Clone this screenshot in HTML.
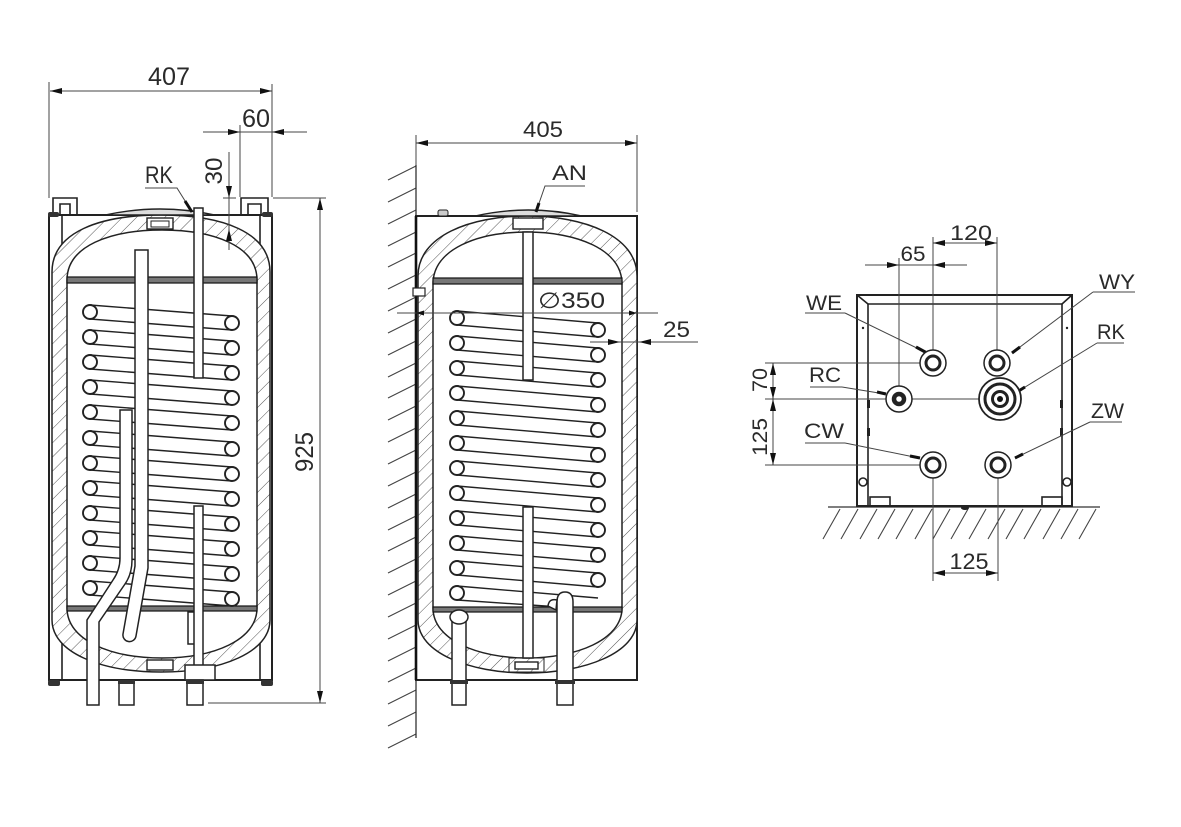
<!DOCTYPE html>
<html><head><meta charset="utf-8"><style>
html,body{margin:0;padding:0;background:#fff;}
svg{display:block;}
text{font-family:"Liberation Sans",sans-serif;fill:#2a2a2a;}
</style></head><body>
<svg width="1181" height="827" viewBox="0 0 1181 827" xmlns="http://www.w3.org/2000/svg">
<defs>
<pattern id="h" width="10" height="10" patternUnits="userSpaceOnUse" patternTransform="rotate(45)">
<rect width="10" height="10" fill="#fff"/>
<line x1="0" y1="0" x2="0" y2="10" stroke="#555" stroke-width="1"/>
</pattern>
<marker id="ar" viewBox="0 0 12 6" refX="12" refY="3" markerWidth="12" markerHeight="6" markerUnits="userSpaceOnUse" orient="auto-start-reverse"><path d="M0,0L12,3L0,6z" fill="#111"/></marker>
<marker id="as" viewBox="0 0 8 5" refX="8" refY="2.5" markerWidth="8" markerHeight="5" markerUnits="userSpaceOnUse" orient="auto-start-reverse"><path d="M0,0L8,2.5L0,5z" fill="#111"/></marker>
</defs>
<rect width="1181" height="827" fill="#fff"/>

<!-- ================= LEFT TANK ================= -->
<g stroke="#222" stroke-width="1.6" fill="none">
  <path d="M53,215 V198 H77 V215 M60,215 V204 H70 V215" />
  <path d="M241,215 V198 H268 V215 M248,215 V204 H261 V215" />
  <rect x="49" y="215" width="223" height="465" stroke-width="2"/>
  <line x1="62" y1="215" x2="62" y2="680"/>
  <line x1="260" y1="215" x2="260" y2="680"/>
</g>
<rect x="48" y="212" width="11" height="5" rx="2" fill="#333"/>
<rect x="262" y="212" width="11" height="5" rx="2" fill="#333"/>
<rect x="48" y="680" width="12" height="6" rx="2" fill="#333"/>
<rect x="261" y="680" width="12" height="6" rx="2" fill="#333"/>
<path fill-rule="evenodd" fill="url(#h)" stroke="#222" stroke-width="1.5"
 d="M52,272 C52,232 100,215 161,215 C222,215 270,232 270,272 L270,620 C270,652 222,672 161,672 C100,672 52,652 52,620 Z
    M67,280 C67,246 110,230 162,230 C214,230 257,246 257,280 L257,608 C257,640 214,658 162,658 C110,658 67,640 67,608 Z"/>
<path d="M105,215 Q160,203 215,215 Z" fill="#ddd" stroke="#222" stroke-width="1.4"/>
<rect x="147" y="218" width="26" height="11" fill="#fff" stroke="#222" stroke-width="1.4"/>
<rect x="151" y="221" width="18" height="6" fill="none" stroke="#222" stroke-width="1"/>
<rect x="147" y="660" width="26" height="10" fill="#fff" stroke="#222" stroke-width="1.4"/>
<rect x="67" y="277" width="190" height="6" fill="#777" stroke="#111" stroke-width="1.2"/>
<rect x="67" y="606" width="190" height="5" fill="#777" stroke="#111" stroke-width="1.2"/>
<g stroke="#222" stroke-width="1.4">
<line x1="90" y1="305" x2="232" y2="316"/><line x1="90" y1="319" x2="232" y2="330"/>
<line x1="90" y1="330" x2="232" y2="341"/><line x1="90" y1="344" x2="232" y2="355"/>
<line x1="90" y1="355" x2="232" y2="366"/><line x1="90" y1="369" x2="232" y2="380"/>
<line x1="90" y1="380" x2="232" y2="391"/><line x1="90" y1="394" x2="232" y2="405"/>
<line x1="90" y1="405" x2="232" y2="416"/><line x1="90" y1="419" x2="232" y2="430"/>
<line x1="90" y1="431" x2="232" y2="442"/><line x1="90" y1="445" x2="232" y2="456"/>
<line x1="90" y1="456" x2="232" y2="467"/><line x1="90" y1="470" x2="232" y2="481"/>
<line x1="90" y1="481" x2="232" y2="492"/><line x1="90" y1="495" x2="232" y2="506"/>
<line x1="90" y1="506" x2="232" y2="517"/><line x1="90" y1="520" x2="232" y2="531"/>
<line x1="90" y1="531" x2="232" y2="542"/><line x1="90" y1="545" x2="232" y2="556"/>
<line x1="90" y1="556" x2="232" y2="567"/><line x1="90" y1="570" x2="232" y2="581"/>
<line x1="90" y1="581" x2="232" y2="592"/><line x1="90" y1="595" x2="232" y2="606"/>
</g>
<g fill="#fff" stroke="#222" stroke-width="1.9">
<circle cx="90" cy="312" r="7"/><circle cx="90" cy="337" r="7"/><circle cx="90" cy="362" r="7"/><circle cx="90" cy="387" r="7"/>
<circle cx="90" cy="412" r="7"/><circle cx="90" cy="438" r="7"/><circle cx="90" cy="463" r="7"/><circle cx="90" cy="488" r="7"/>
<circle cx="90" cy="513" r="7"/><circle cx="90" cy="538" r="7"/><circle cx="90" cy="563" r="7"/><circle cx="90" cy="588" r="7"/>
<circle cx="232" cy="323" r="7"/><circle cx="232" cy="348" r="7"/><circle cx="232" cy="373" r="7"/><circle cx="232" cy="398" r="7"/>
<circle cx="232" cy="423" r="7"/><circle cx="232" cy="449" r="7"/><circle cx="232" cy="474" r="7"/><circle cx="232" cy="499" r="7"/>
<circle cx="232" cy="524" r="7"/><circle cx="232" cy="549" r="7"/><circle cx="232" cy="574" r="7"/><circle cx="232" cy="599" r="7"/>
</g>
<g fill="#fff" stroke="#222" stroke-width="1.5">
<path d="M135,250 H148 V568 L136,636 A6.5,6.5 0 0 1 123,634 L135,566 Z"/>
<path d="M120,410 H132 V560 Q132,574 125,584 L99,622 V705 H87 V620 L113,580 Q120,570 120,558 Z"/>
<rect x="194" y="208" width="9" height="170"/>
<rect x="188" y="612" width="7" height="32"/>
<rect x="194" y="506" width="9" height="162"/>
<rect x="185" y="665" width="30" height="15"/>
<rect x="187" y="680" width="16" height="25"/>
<rect x="119" y="682" width="15" height="23"/>
</g>
<rect x="118" y="680" width="17" height="4" fill="#333"/>
<rect x="186" y="680" width="18" height="4" fill="#333"/>

<g stroke="#444" stroke-width="1" fill="none">
<line x1="49" y1="82" x2="49" y2="198"/>
<line x1="272" y1="84" x2="272" y2="197"/>
<line x1="50" y1="91" x2="272" y2="91" marker-start="url(#ar)" marker-end="url(#ar)"/>
<line x1="240" y1="125" x2="240" y2="197"/>
<line x1="203" y1="132" x2="307" y2="132"/>
<line x1="205" y1="132" x2="240" y2="132" marker-end="url(#ar)"/>
<line x1="305" y1="132" x2="272" y2="132" marker-end="url(#ar)"/>
<line x1="229" y1="152" x2="229" y2="250"/>
<line x1="229" y1="160" x2="229" y2="198" marker-end="url(#ar)"/>
<line x1="229" y1="248" x2="229" y2="229" marker-end="url(#ar)"/>
<line x1="223" y1="198" x2="236" y2="198"/>
<line x1="273" y1="198" x2="326" y2="198"/>
<line x1="208" y1="703" x2="326" y2="703"/>
<line x1="320" y1="198" x2="320" y2="703" marker-start="url(#ar)" marker-end="url(#ar)"/>
<polyline points="145,188 177,188 192,212"/>
</g>
<line x1="185" y1="201" x2="192" y2="212" stroke="#111" stroke-width="3"/>
<text x="169" y="85" font-size="25" text-anchor="middle" textLength="42" lengthAdjust="spacingAndGlyphs">407</text>
<text x="256" y="127" font-size="25" text-anchor="middle" textLength="28" lengthAdjust="spacingAndGlyphs">60</text>
<text x="145" y="183" font-size="24" textLength="28" lengthAdjust="spacingAndGlyphs">RK</text>
<text transform="translate(222,171) rotate(-90)" font-size="24" text-anchor="middle" textLength="27" lengthAdjust="spacingAndGlyphs">30</text>
<text transform="translate(313,452) rotate(-90)" font-size="25" text-anchor="middle" textLength="40" lengthAdjust="spacingAndGlyphs">925</text>

<!-- ================= MIDDLE TANK ================= -->
<path stroke="#444" stroke-width="1.1" fill="none" d="M388,180l28,-14M388,202l28,-14M388,224l28,-14M388,246l28,-14M388,267l28,-14M388,289l28,-14M388,311l28,-14M388,333l28,-14M388,355l28,-14M388,377l28,-14M388,398l28,-14M388,420l28,-14M388,442l28,-14M388,464l28,-14M388,486l28,-14M388,508l28,-14M388,530l28,-14M388,551l28,-14M388,573l28,-14M388,595l28,-14M388,617l28,-14M388,639l28,-14M388,661l28,-14M388,682l28,-14M388,704l28,-14M388,726l28,-14M388,748l28,-14"/>
<line x1="416" y1="165" x2="416" y2="738" stroke="#333" stroke-width="1.3"/>
<rect x="416" y="216" width="221" height="464" fill="#fff" stroke="#222" stroke-width="2"/>
<path fill-rule="evenodd" fill="url(#h)" stroke="#222" stroke-width="1.5"
 d="M418,276 C418,236 470,216 527,216 C584,216 637,236 637,276 L637,620 C637,653 584,673 527,673 C470,673 418,653 418,620 Z
    M433,284 C433,249 478,232 527,232 C576,232 622,249 622,284 L622,608 C622,640 576,658 527,658 C478,658 433,640 433,608 Z"/>
<line x1="416" y1="216" x2="416" y2="680" stroke="#111" stroke-width="2.6"/>
<path d="M475,216 Q528,204 582,216 Z" fill="#ddd" stroke="#222" stroke-width="1.4"/>
<rect x="438" y="210" width="10" height="6" rx="2" fill="#ccc" stroke="#222" stroke-width="1"/>
<rect x="513" y="218" width="30" height="11" fill="#fff" stroke="#222" stroke-width="1.4"/>
<rect x="515" y="662" width="23" height="7" fill="#fff" stroke="#222" stroke-width="1.4"/>
<rect x="509" y="658" width="35" height="14" fill="none" stroke="#222" stroke-width="1"/>
<rect x="413" y="288" width="12" height="8" fill="#fff" stroke="#222" stroke-width="1.2"/>
<rect x="433" y="278" width="189" height="6" fill="#777" stroke="#111" stroke-width="1.2"/>
<rect x="433" y="607" width="189" height="5" fill="#777" stroke="#111" stroke-width="1.2"/>
<g stroke="#222" stroke-width="1.4">
<line x1="457" y1="311" x2="598" y2="323"/><line x1="457" y1="325" x2="598" y2="337"/>
<line x1="457" y1="336" x2="598" y2="348"/><line x1="457" y1="350" x2="598" y2="362"/>
<line x1="457" y1="361" x2="598" y2="373"/><line x1="457" y1="375" x2="598" y2="387"/>
<line x1="457" y1="386" x2="598" y2="398"/><line x1="457" y1="400" x2="598" y2="412"/>
<line x1="457" y1="411" x2="598" y2="423"/><line x1="457" y1="425" x2="598" y2="437"/>
<line x1="457" y1="436" x2="598" y2="448"/><line x1="457" y1="450" x2="598" y2="462"/>
<line x1="457" y1="461" x2="598" y2="473"/><line x1="457" y1="475" x2="598" y2="487"/>
<line x1="457" y1="486" x2="598" y2="498"/><line x1="457" y1="500" x2="598" y2="512"/>
<line x1="457" y1="511" x2="598" y2="523"/><line x1="457" y1="525" x2="598" y2="537"/>
<line x1="457" y1="536" x2="598" y2="548"/><line x1="457" y1="550" x2="598" y2="562"/>
<line x1="457" y1="561" x2="598" y2="573"/><line x1="457" y1="575" x2="598" y2="587"/>
<line x1="457" y1="586" x2="598" y2="598"/><line x1="457" y1="600" x2="560" y2="607"/>
</g>
<g fill="#fff" stroke="#222" stroke-width="1.9">
<circle cx="457" cy="318" r="7"/><circle cx="457" cy="343" r="7"/><circle cx="457" cy="368" r="7"/><circle cx="457" cy="393" r="7"/>
<circle cx="457" cy="418" r="7"/><circle cx="457" cy="443" r="7"/><circle cx="457" cy="468" r="7"/><circle cx="457" cy="493" r="7"/>
<circle cx="457" cy="518" r="7"/><circle cx="457" cy="543" r="7"/><circle cx="457" cy="568" r="7"/><circle cx="457" cy="593" r="7"/>
<circle cx="598" cy="330" r="7"/><circle cx="598" cy="355" r="7"/><circle cx="598" cy="380" r="7"/><circle cx="598" cy="405" r="7"/>
<circle cx="598" cy="430" r="7"/><circle cx="598" cy="455" r="7"/><circle cx="598" cy="480" r="7"/><circle cx="598" cy="505" r="7"/>
<circle cx="598" cy="530" r="7"/><circle cx="598" cy="555" r="7"/><circle cx="598" cy="580" r="7"/>
</g>
<g fill="#fff" stroke="#222" stroke-width="1.5">
<rect x="523" y="232" width="10" height="148"/>
<rect x="523" y="507" width="10" height="151"/>
<rect x="452" y="617" width="14" height="88"/>
<ellipse cx="459" cy="617" rx="9" ry="7"/>
<path d="M557,705 V602 Q557,592 565,592 Q573,592 573,602 V705 Z"/>
<path d="M557,600 Q549,598 548,606 L556,610 Z"/>
</g>
<rect x="450" y="680" width="18" height="4" fill="#333"/>
<rect x="555" y="680" width="20" height="4" fill="#333"/>

<g stroke="#444" stroke-width="1" fill="none">
<line x1="416" y1="135" x2="416" y2="165"/>
<line x1="637" y1="135" x2="637" y2="212"/>
<line x1="416" y1="143" x2="637" y2="143" marker-start="url(#ar)" marker-end="url(#ar)"/>
<line x1="397" y1="313" x2="658" y2="313"/>
<line x1="430" y1="313" x2="416" y2="313" marker-end="url(#as)"/>
<line x1="623" y1="313" x2="637" y2="313" marker-end="url(#as)"/>
<line x1="590" y1="342" x2="698" y2="342"/>
<line x1="600" y1="342" x2="620" y2="342" marker-end="url(#ar)"/>
<line x1="660" y1="342" x2="639" y2="342" marker-end="url(#ar)"/>
<polyline points="585,186 545,186 536,212"/>
</g>
<line x1="539" y1="203" x2="536" y2="212" stroke="#111" stroke-width="3"/>
<text x="543" y="137" font-size="22" text-anchor="middle" textLength="40" lengthAdjust="spacingAndGlyphs">405</text>
<text x="552" y="180" font-size="21" textLength="35" lengthAdjust="spacingAndGlyphs">AN</text>
<text x="538" y="308" font-size="22" font-family="DejaVu Sans, Liberation Sans, sans-serif" textLength="67" lengthAdjust="spacingAndGlyphs">∅350</text>
<text x="663" y="337" font-size="22" textLength="27" lengthAdjust="spacingAndGlyphs">25</text>

<!-- ================= RIGHT VIEW ================= -->
<line x1="828" y1="507" x2="1100" y2="507" stroke="#333" stroke-width="1.3"/>
<path stroke="#444" stroke-width="1.1" fill="none" d="M840,509l-17,30M858,509l-17,30M877,509l-17,30M895,509l-17,30M913,509l-17,30M932,509l-17,30M950,509l-17,30M968,509l-17,30M986,509l-17,30M1005,509l-17,30M1023,509l-17,30M1041,509l-17,30M1060,509l-17,30M1078,509l-17,30M1096,509l-17,30"/>
<g stroke="#222" stroke-width="1.6" fill="none">
<rect x="857" y="295" width="215" height="211" stroke-width="2"/>
<path d="M868,506 V304 H1062 V506"/>
<line x1="857" y1="295" x2="868" y2="304"/>
<line x1="1072" y1="295" x2="1062" y2="304"/>
<circle cx="863" cy="482" r="4"/>
<circle cx="1067" cy="482" r="4"/>
<rect x="870" y="497" width="20" height="9"/>
<rect x="1042" y="497" width="20" height="9"/>
</g>
<g fill="#222">
<rect x="867" y="400" width="3" height="8"/><rect x="867" y="428" width="3" height="8"/>
<rect x="1060" y="400" width="3" height="8"/><rect x="1060" y="428" width="3" height="8"/>
<circle cx="863" cy="328" r="1.2"/><circle cx="1067" cy="328" r="1.2"/>
<ellipse cx="965" cy="508" rx="4" ry="2"/>
</g>
<g stroke="#444" stroke-width="1" fill="none">
<line x1="933" y1="237" x2="933" y2="350"/>
<line x1="997" y1="237" x2="997" y2="350"/>
<line x1="899" y1="258" x2="899" y2="386"/>
<line x1="933" y1="243" x2="997" y2="243" marker-start="url(#ar)" marker-end="url(#ar)"/>
<line x1="865" y1="265" x2="967" y2="265"/>
<line x1="880" y1="265" x2="899" y2="265" marker-end="url(#ar)"/>
<line x1="955" y1="265" x2="933" y2="265" marker-end="url(#ar)"/>
<line x1="765" y1="363" x2="920" y2="363"/>
<line x1="765" y1="399" x2="985" y2="399"/>
<line x1="765" y1="465" x2="920" y2="465"/>
<line x1="773" y1="363" x2="773" y2="399" marker-start="url(#ar)" marker-end="url(#ar)"/>
<line x1="773" y1="399" x2="773" y2="465" marker-start="url(#ar)" marker-end="url(#ar)"/>
<line x1="933" y1="478" x2="933" y2="581"/>
<line x1="998" y1="478" x2="998" y2="581"/>
<line x1="933" y1="573" x2="998" y2="573" marker-start="url(#ar)" marker-end="url(#ar)"/>
<polyline points="845,313 805,313"/><line x1="845" y1="313" x2="927" y2="353"/>
<polyline points="1093,292 1135,292"/><line x1="1093" y1="292" x2="1012" y2="353"/>
<polyline points="1097,343 1124,343"/><line x1="1097" y1="343" x2="1017" y2="392"/>
<polyline points="810,387 842,387"/><line x1="842" y1="387" x2="885" y2="394"/>
<polyline points="1090,422 1122,422"/><line x1="1090" y1="422" x2="1015" y2="458"/>
<polyline points="805,443 845,443"/><line x1="845" y1="443" x2="919" y2="458"/>
</g>
<g stroke="#111" stroke-width="3">
<line x1="916" y1="347" x2="927" y2="353"/>
<line x1="1020" y1="347" x2="1012" y2="353"/>
<line x1="1025" y1="387" x2="1017" y2="392"/>
<line x1="877" y1="392" x2="886" y2="394"/>
<line x1="1023" y1="454" x2="1015" y2="458"/>
<line x1="910" y1="456" x2="920" y2="458"/>
</g>
<g fill="#fff" stroke="#222">
<circle cx="933" cy="363" r="13" stroke-width="1.5"/><circle cx="933" cy="363" r="7" stroke-width="3"/>
<circle cx="997" cy="363" r="13" stroke-width="1.5"/><circle cx="997" cy="363" r="7" stroke-width="3"/>
<circle cx="899" cy="399" r="13" stroke-width="1.5"/><circle cx="899" cy="399" r="5" stroke-width="4.5"/>
<circle cx="933" cy="465" r="13" stroke-width="1.5"/><circle cx="933" cy="465" r="7" stroke-width="3"/>
<circle cx="998" cy="465" r="13" stroke-width="1.5"/><circle cx="998" cy="465" r="7" stroke-width="3"/>
<circle cx="1000" cy="399" r="21" stroke-width="1.8"/><circle cx="1000" cy="399" r="15" stroke-width="3"/><circle cx="1000" cy="399" r="7.5" stroke-width="3"/>
</g>
<circle cx="1000" cy="399" r="3" fill="#111"/>
<text x="913" y="261" font-size="21" text-anchor="middle" textLength="25" lengthAdjust="spacingAndGlyphs">65</text>
<text x="971" y="240" font-size="21" text-anchor="middle" textLength="42" lengthAdjust="spacingAndGlyphs">120</text>
<text x="806" y="310" font-size="21" textLength="36" lengthAdjust="spacingAndGlyphs">WE</text>
<text x="1099" y="289" font-size="21" textLength="36" lengthAdjust="spacingAndGlyphs">WY</text>
<text x="1097" y="339" font-size="21" textLength="28" lengthAdjust="spacingAndGlyphs">RK</text>
<text x="809" y="382" font-size="21" textLength="32" lengthAdjust="spacingAndGlyphs">RC</text>
<text x="1091" y="418" font-size="21" textLength="33" lengthAdjust="spacingAndGlyphs">ZW</text>
<text x="804" y="438" font-size="21" textLength="40" lengthAdjust="spacingAndGlyphs">CW</text>
<text transform="translate(767,380) rotate(-90)" font-size="21" text-anchor="middle" textLength="24" lengthAdjust="spacingAndGlyphs">70</text>
<text transform="translate(767,437) rotate(-90)" font-size="21" text-anchor="middle" textLength="38" lengthAdjust="spacingAndGlyphs">125</text>
<text x="969" y="569" font-size="22" text-anchor="middle" textLength="39" lengthAdjust="spacingAndGlyphs">125</text>
</svg>
</body></html>
